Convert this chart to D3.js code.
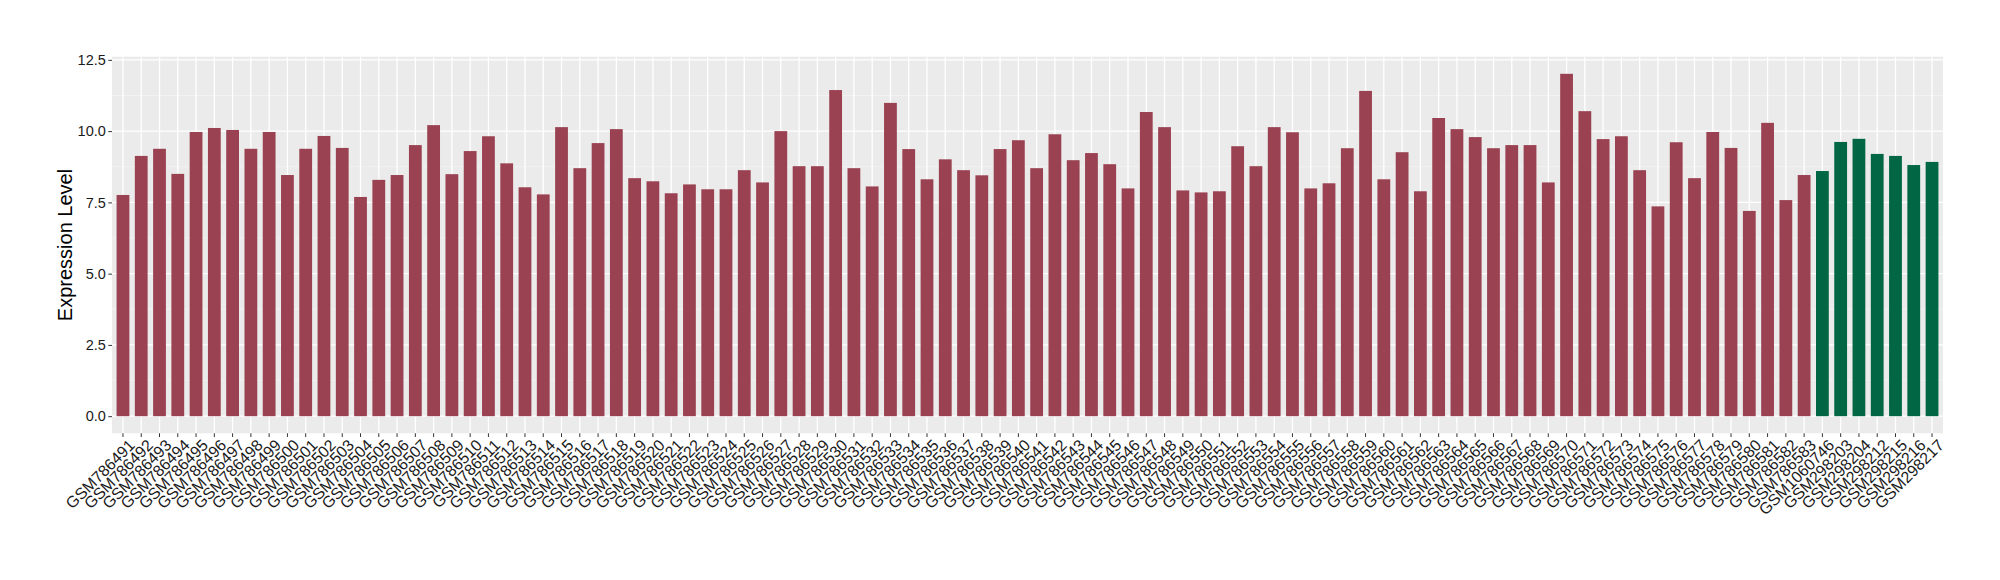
<!DOCTYPE html>
<html>
<head>
<meta charset="utf-8">
<script src="https://cdn.jsdelivr.net/npm/d3@7"></script>
<style>
  html, body { margin: 0; padding: 0; background: #fff; }
  svg { display: block; }
  text { font-family: "Liberation Sans", Arial, Helvetica, sans-serif; }
</style>
</head>
<body>
<svg id="chart" width="2000" height="580"></svg>
<script>
// ---- data ----
const groupA = [
  "GSM786491","GSM786492","GSM786493","GSM786494","GSM786495","GSM786496","GSM786497","GSM786498","GSM786499","GSM786500",
  "GSM786501","GSM786502","GSM786503","GSM786504","GSM786505","GSM786506","GSM786507","GSM786508","GSM786509","GSM786510",
  "GSM786511","GSM786512","GSM786513","GSM786514","GSM786515","GSM786516","GSM786517","GSM786518","GSM786519","GSM786520",
  "GSM786521","GSM786522","GSM786523","GSM786524","GSM786525","GSM786526","GSM786527","GSM786528","GSM786529","GSM786530",
  "GSM786531","GSM786532","GSM786533","GSM786534","GSM786535","GSM786536","GSM786537","GSM786538","GSM786539","GSM786540",
  "GSM786541","GSM786542","GSM786543","GSM786544","GSM786545","GSM786546","GSM786547","GSM786548","GSM786549","GSM786550",
  "GSM786551","GSM786552","GSM786553","GSM786554","GSM786555","GSM786556","GSM786557","GSM786558","GSM786559","GSM786560",
  "GSM786561","GSM786562","GSM786563","GSM786564","GSM786565","GSM786566","GSM786567","GSM786568","GSM786569","GSM786570",
  "GSM786571","GSM786572","GSM786573","GSM786574","GSM786575","GSM786576","GSM786577","GSM786578","GSM786579","GSM786580",
  "GSM786581","GSM786582","GSM786583"
];
const valuesA = [
  7.76, 9.13, 9.38, 8.50, 9.97, 10.11, 10.04, 9.38, 9.97, 8.46,
  9.38, 9.83, 9.41, 7.69, 8.29, 8.46, 9.51, 10.21, 8.49, 9.30,
  9.82, 8.87, 8.03, 7.78, 10.14, 8.70, 9.58, 10.07, 8.35, 8.24,
  7.82, 8.13, 7.96, 7.96, 8.63, 8.20, 10.00, 8.77, 8.77, 11.44,
  8.70, 8.06, 10.99, 9.37, 8.31, 9.01, 8.63, 8.45, 9.37, 9.68,
  8.70, 9.89, 8.98, 9.23, 8.84, 7.99, 10.67, 10.14, 7.92, 7.85,
  7.89, 9.47, 8.77, 10.14, 9.96, 7.99, 8.17, 9.40, 11.41, 8.31,
  9.26, 7.89, 10.46, 10.07, 9.79, 9.40, 9.51, 9.51, 8.20, 12.01,
  10.70, 9.72, 9.82, 8.63, 7.36, 9.61, 8.35, 9.97, 9.41, 7.20,
  10.29, 7.58, 8.46
];
const groupB = ["GSM1060746","GSM298203","GSM298204","GSM298212","GSM298215","GSM298216","GSM298217"];
const valuesB = [8.60, 9.62, 9.73, 9.20, 9.13, 8.81, 8.92];
const yTicks = [0, 2.5, 5, 7.5, 10, 12.5];
const yTitle = "Expression Level";
const colorA = "#9A4251";
const colorB = "#006644";

// ---- table ----
const rows = groupA.map((s, i) => ({sample: s, value: valuesA[i], group: "A"}))
  .concat(groupB.map((s, i) => ({sample: s, value: valuesB[i], group: "B"})));

// ---- layout ----
const panel = {left: 112, right: 1943, top: 56.7, bottom: 433.3};
const svg = d3.select("#chart");

const maxV = d3.max(rows, d => d.value);
const y = d3.scaleLinear()
  .domain([-0.05 * maxV, maxV * 1.05])
  .range([panel.bottom, panel.top]);

const x = d3.scaleBand()
  .domain(rows.map(d => d.sample))
  .range([panel.left, panel.right])
  .paddingInner(0.3)
  .paddingOuter(0.25);
const cx = s => x(s) + x.bandwidth() / 2;

// panel background
svg.append("rect")
  .attr("x", panel.left).attr("y", panel.top)
  .attr("width", panel.right - panel.left)
  .attr("height", panel.bottom - panel.top)
  .attr("fill", "#EBEBEB");

// minor horizontal gridlines
const minor = yTicks.slice(0, -1).map(t => t + 1.25);
svg.append("g").selectAll("line").data(minor).join("line")
  .attr("x1", panel.left).attr("x2", panel.right)
  .attr("y1", d => y(d)).attr("y2", d => y(d))
  .attr("stroke", "#F5F5F5").attr("stroke-width", 0.7);

// major horizontal gridlines
svg.append("g").selectAll("line").data(yTicks).join("line")
  .attr("x1", panel.left).attr("x2", panel.right)
  .attr("y1", d => y(d)).attr("y2", d => y(d))
  .attr("stroke", "#FFFFFF").attr("stroke-width", 1.3);

// vertical gridlines
svg.append("g").selectAll("line").data(rows).join("line")
  .attr("x1", d => cx(d.sample)).attr("x2", d => cx(d.sample))
  .attr("y1", panel.top).attr("y2", panel.bottom)
  .attr("stroke", "#FFFFFF").attr("stroke-width", 1.3);

// bars
svg.append("g").selectAll("rect").data(rows).join("rect")
  .attr("x", d => x(d.sample))
  .attr("width", x.bandwidth())
  .attr("y", d => y(d.value))
  .attr("height", d => y(0) - y(d.value))
  .attr("fill", d => d.group === "A" ? colorA : colorB);

// y axis
const yAxis = d3.axisLeft(y).tickValues(yTicks).tickFormat(d3.format(".1f")).tickSize(3.7).tickPadding(2.5);
const gy = svg.append("g").attr("transform", `translate(${panel.left},0)`).call(yAxis);
gy.attr("font-size", null).attr("font-family", null);
gy.select(".domain").remove();
gy.selectAll(".tick line").attr("stroke", "#333333").attr("stroke-width", 1);
gy.selectAll(".tick text").attr("fill", "#1a1a1a").style("font-size", "14.5px")
  .style("font-family", '"Liberation Sans", Arial, sans-serif');

// x axis
const xAxis = d3.axisBottom(x).tickSize(3.7).tickPadding(0);
const gx = svg.append("g").attr("transform", `translate(0,${panel.bottom})`).call(xAxis);
gx.attr("font-size", null).attr("font-family", null);
gx.select(".domain").remove();
gx.selectAll(".tick line").attr("stroke", "#333333").attr("stroke-width", 1);
gx.selectAll(".tick text")
  .attr("fill", "#1a1a1a")
  .style("font-size", "16px")
  .style("font-family", '"Liberation Sans", Arial, sans-serif')
  .attr("text-anchor", "end")
  .attr("dy", null)
  .attr("y", 0)
  .attr("dominant-baseline", "hanging")
  .attr("transform", "translate(5,5) rotate(-45)");

// y title
svg.append("text")
  .attr("transform", `translate(72,${(panel.top + panel.bottom) / 2}) rotate(-90)`)
  .attr("text-anchor", "middle")
  .attr("fill", "#000")
  .style("font-size", "20px")
  .text(yTitle);
</script>
</body>
</html>
